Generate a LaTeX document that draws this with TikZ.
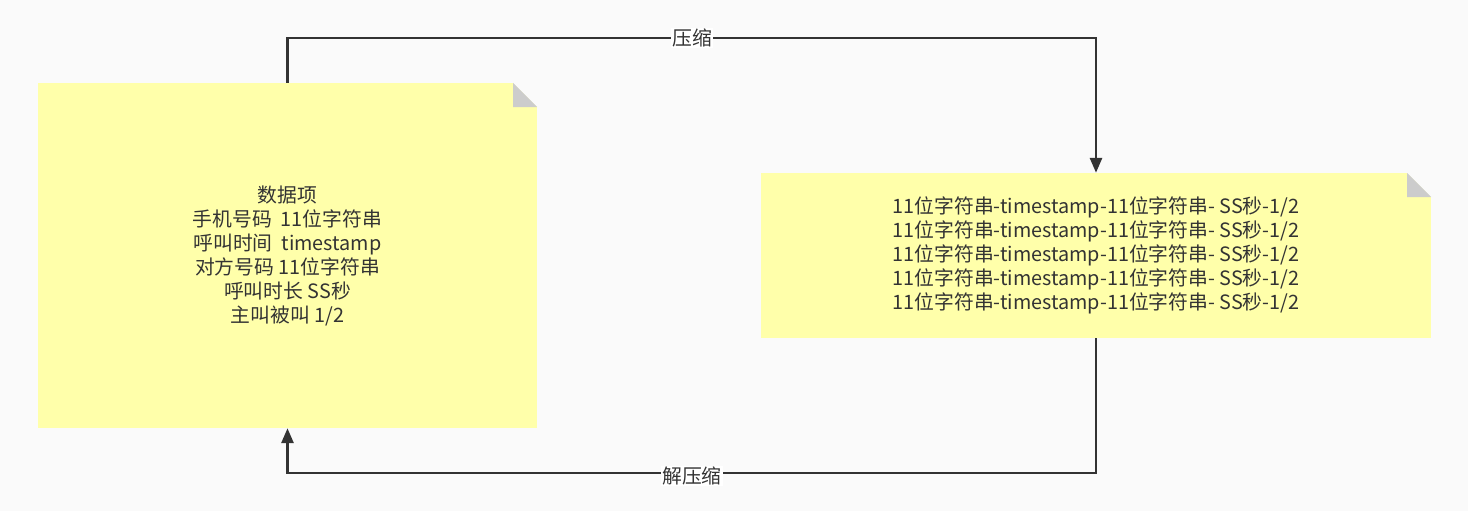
\documentclass[tikz,border=0pt]{standalone}
\usepackage{fontspec}
\setmainfont{Noto Sans CJK SC}
\usepackage{tikz}
\usetikzlibrary{arrows.meta, positioning, calc}
\definecolor{pagebg}{HTML}{FAFAFA}
\definecolor{noteyellow}{HTML}{FFFFAA}
\definecolor{foldgray}{HTML}{CCCCCC}
\definecolor{inkdark}{HTML}{333333}

\begin{document}
\begin{tikzpicture}[
    x=1pt, y=-1pt,
    every node/.style={font=\fontsize{19.8}{24}\selectfont, text=inkdark},
    note/.style={rectangle, fill=noteyellow, align=center, inner sep=0pt,
                 path picture={
                   \fill[pagebg] ($(path picture bounding box.north east)+(-24pt,0)$)
                       -- (path picture bounding box.north east) -- ++(0,-24pt) -- cycle;
                   \fill[foldgray] ($(path picture bounding box.north east)+(-24pt,0)$)
                       -- ++(0,-24pt) -- ++(24pt,0) -- cycle;
                 }},
    conn/.style={-{Triangle[length=15pt,width=12pt]}, line width=2.8pt,
                 color=inkdark},
    tag/.style={fill=white, inner sep=1pt}
]

\fill[pagebg] (0,0) rectangle (1468,511);
\useasboundingbox (0,0) rectangle (1468,511);

\node[note, minimum width=499pt, minimum height=345pt] (fields) at (287.5,255.5)
    {数据项\\手机号码~~11位字符串\\呼叫时间~~timestamp\\对方号码 11位字符串\\呼叫时长 SS秒\\主叫被叫 1/2};
\node[note, minimum width=670pt, minimum height=165pt] (records) at (1096,255.5)
    {11位字符串-timestamp-11位字符串- SS秒-1/2\\
     11位字符串-timestamp-11位字符串- SS秒-1/2\\
     11位字符串-timestamp-11位字符串- SS秒-1/2\\
     11位字符串-timestamp-11位字符串- SS秒-1/2\\
     11位字符串-timestamp-11位字符串- SS秒-1/2};

\coordinate (zip) at (692,38);
\coordinate (unzip) at (692,473);

\draw[conn] (fields.north) |- (zip) -| (records.north);
\draw[conn] (records.south) |- (unzip) -| (fields.south);

\node[tag] (ziplabel) at (zip) {压缩};
\node[tag] (unziplabel) at ($(unzip)+(0,3)$) {解压缩};

\end{tikzpicture}
\end{document}
